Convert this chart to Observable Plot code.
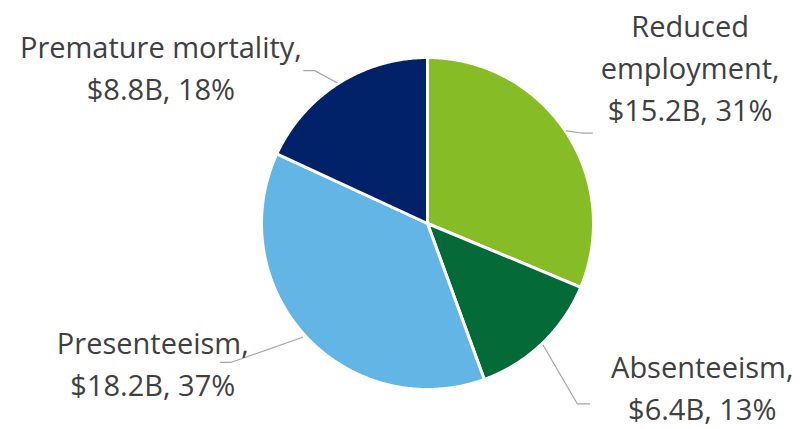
<!DOCTYPE html>
<html>
<head>
<meta charset="utf-8">
<script src="https://cdn.jsdelivr.net/npm/d3@7"></script>
<script src="https://cdn.jsdelivr.net/npm/@observablehq/plot@0.6"></script>
<style>
  html, body { margin: 0; padding: 0; background: #fff; }
</style>
</head>
<body>
<div id="chart"></div>
<script>
// ---- data ----
const categories = ["Reduced employment", "Absenteeism", "Presenteeism", "Premature mortality"];
const labelLines = [["Reduced", "employment,"], ["Absenteeism,"], ["Presenteeism,"], ["Premature mortality,"]];
const costsB = [15.2, 6.4, 18.2, 8.8];
const percents = [31, 13, 37, 18];
const colors = ["#86BC25", "#046A38", "#62B5E5", "#012169"];

// label anchor positions, in pie-radius units (center = 0,0)
const labelX = [1.582, 1.655, -1.655, -1.606];
const labelY = [0.954, -0.976, -0.829, 0.954];
// leader lines, in pie-radius units
const leaders = [
  [[0.836, 0.558], [0.927, 0.545], [0.994, 0.545]],
  [[0.697, -0.733], [0.903, -1.087], [0.976, -1.087]],
  [[-0.752, -0.685], [-1.182, -0.836], [-1.248, -0.836]],
  [[-0.545, 0.848], [-0.679, 0.921], [-0.745, 0.921]]
];

// ---- layout ----
const W = 800, H = 429, CX = 427, CY = 223, R = 166;

const arcs = d3.pie().sort(null).value(d => d)(costsB);
const slices = arcs.map((a, i) => {
  const pts = [{x: 0, y: 0}];
  const n = Math.max(2, Math.ceil((a.endAngle - a.startAngle) / (2 * Math.PI) * 720));
  for (let j = 0; j <= n; j++) {
    const t = a.startAngle + (a.endAngle - a.startAngle) * j / n;
    pts.push({x: Math.sin(t), y: Math.cos(t)});
  }
  pts.push({x: 0, y: 0});
  return pts;
});

const labels = categories.map((c, i) => ({
  x: labelX[i], y: labelY[i],
  text: [...labelLines[i], `$${costsB[i].toFixed(1)}B, ${percents[i]}%`].join("\n")
}));

const leaderPts = leaders.flatMap((l, k) => l.map(([x, y]) => ({x, y, k})));

const plot = Plot.plot({
  width: W,
  height: H,
  margin: 0,
  x: {domain: [-CX / R, (W - CX) / R], range: [0, W], axis: null},
  y: {domain: [-(H - CY) / R, CY / R], range: [H, 0], axis: null},
  style: {fontFamily: "'Open Sans', 'Noto Sans', sans-serif", background: "#fff"},
  marks: [
    ...slices.map((pts, i) => Plot.line(pts, {
      x: "x", y: "y", fill: colors[i], stroke: "white", strokeWidth: 3, strokeLinejoin: "round", curve: "linear"
    })),
    Plot.line(leaderPts, {x: "x", y: "y", z: "k", stroke: "#A5A5A5", strokeWidth: 1.2}),
    Plot.text(labels, {
      x: "x", y: "y", text: "text", fontSize: 29, lineHeight: 1.45,
      fill: "#404040", textAnchor: "middle", lineAnchor: "middle"
    })
  ]
});
document.getElementById("chart").appendChild(plot);
</script>
</body>
</html>
